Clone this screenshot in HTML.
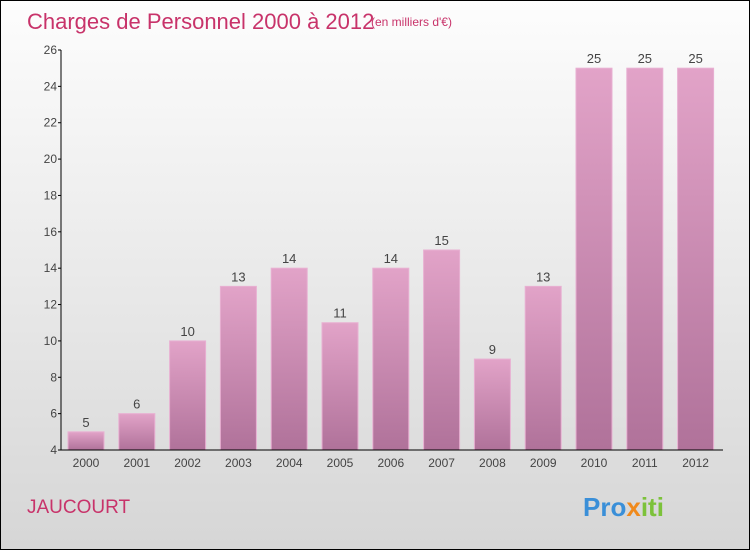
<!DOCTYPE html>
<html><head><meta charset="utf-8"><style>
body{margin:0}
#c{position:relative;width:748px;height:548px;border:1px solid #000;background:linear-gradient(#fdfdfd,#d6d6d6);font-family:"Liberation Sans",sans-serif;overflow:hidden}
</style></head><body>
<div id="c">
<svg width="748" height="548">
<defs><linearGradient id="bg" x1="0" y1="0" x2="0" y2="1"><stop offset="0" stop-color="#e2a3c8"/><stop offset="1" stop-color="#b0729a"/></linearGradient></defs>
<text x="26" y="28" font-size="22" fill="#c8336a">Charges de Personnel 2000 à 2012</text>
<text x="370" y="25" font-size="12" fill="#c8336a">(en milliers d'€)</text>
<text x="26" y="512" font-size="19" fill="#c8336a">JAUCOURT</text>
<text x="582" y="515" font-size="26" font-weight="bold"><tspan fill="#3a8fd8">Pro</tspan><tspan fill="#f08a1c">x</tspan><tspan fill="#7cc23a">iti</tspan></text>
<g id="g"></g>
</svg></div>
<script>
const years=["2000","2001","2002","2003","2004","2005","2006","2007","2008","2009","2010","2011","2012"];
const values=[5,6,10,13,14,11,14,15,9,13,25,25,25];
const ticks=[4,6,8,10,12,14,16,18,20,22,24,26];
const ns="http://www.w3.org/2000/svg",g=document.getElementById('g');
const x0=60,slot=50.8,y=v=>449-(v-4)*400/22;
function mk(t,a,txt){const e=document.createElementNS(ns,t);for(const k in a)e.setAttribute(k,a[k]);if(txt!=null)e.textContent=txt;g.appendChild(e);return e;}
years.forEach((yr,i)=>{
const bx=x0+i*slot+7,v=values[i];
const r=mk('rect',{x:bx,y:y(v),width:36,height:449-y(v),fill:'url(#bg)',stroke:'#e8b0d2','stroke-width':1});


const l=mk('text',{x:bx+18,y:y(v)-5,'font-size':13,fill:'#444','text-anchor':'middle'},String(v));


const t=mk('text',{x:bx+18,y:466,'font-size':12,fill:'#444','text-anchor':'middle'},yr);


});
ticks.forEach(v=>{
const ln=mk('line',{x1:57,x2:60,y1:y(v),y2:y(v),stroke:'#000'});


const t=mk('text',{x:56,y:y(v)+4,'font-size':12,fill:'#444','text-anchor':'end'},String(v));


});
const ya=mk('line',{x1:60,x2:60,y1:y(26),y2:449,stroke:'#000'});


const xa=mk('line',{x1:60,x2:722,y1:449,y2:449,stroke:'#000'});


</script>
</body></html>
